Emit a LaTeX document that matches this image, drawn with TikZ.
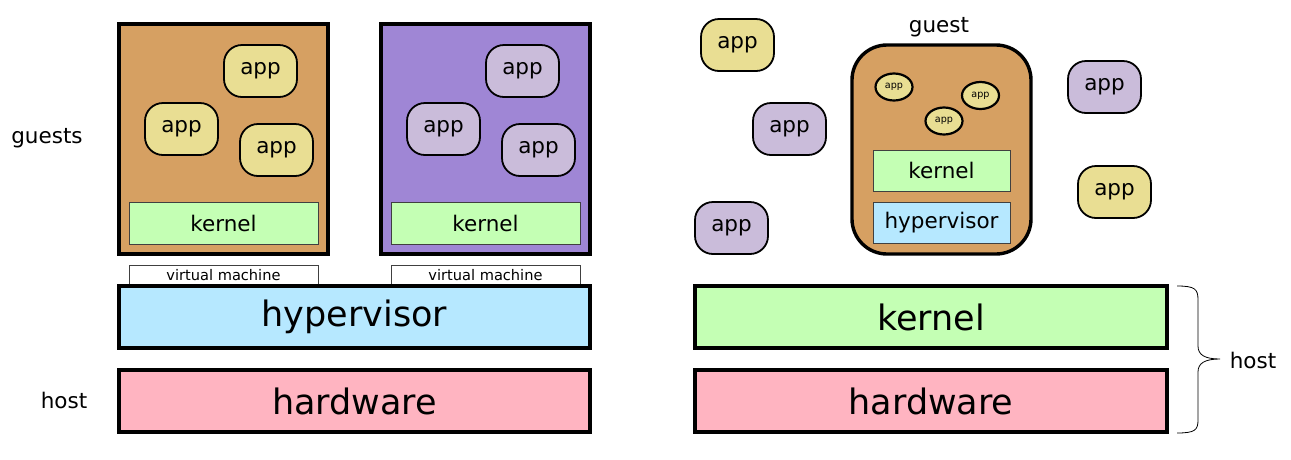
\documentclass[tikz,border=0pt]{standalone}
\usepackage{fontspec}
\setmainfont{DejaVu Sans}
\usetikzlibrary{shapes.geometric}
\definecolor{guesttan}{RGB}{214,160,98}
\definecolor{guestpurple}{RGB}{159,134,213}
\definecolor{appyellow}{RGB}{233,222,147}
\definecolor{applilac}{RGB}{202,188,218}
\definecolor{kernelgreen}{RGB}{196,255,180}
\definecolor{hyperblue}{RGB}{182,232,255}
\definecolor{hwpink}{RGB}{255,180,193}

\begin{document}
\begin{tikzpicture}[x=1pt, y=-1pt,
    every node/.style={inner sep=0pt, font=\fontsize{21.5}{24}\selectfont},
    layer/.style={draw, line width=3.4pt, minimum width=471pt, minimum height=62pt, font=\fontsize{35}{40}\selectfont},
    vmbox/.style={draw, line width=3.4pt, minimum width=209pt, minimum height=230pt},
    app/.style={draw, line width=1.8pt, rounded corners=18pt, minimum width=73pt, minimum height=52pt},
    tinyapp/.style={draw, ellipse, line width=2.2pt, fill=appyellow, minimum width=37pt, minimum height=27pt, font=\fontsize{9.6}{11}\selectfont},
    inbox/.style={draw=black!75, line width=0.8pt, minimum width=189pt, minimum height=42pt},
    vmlabel/.style={draw=black!75, line width=0.8pt, fill=white, minimum width=189pt, minimum height=21pt, font=\fontsize{14.6}{16}\selectfont}]
        \useasboundingbox (0,0) rectangle (1291,459);

        % Left: hypervisor with two virtual machines
        \node[vmbox, fill=guesttan] (vmA) at (223.5,139) {};
        \node[vmbox, fill=guestpurple] (vmB) at (485.5,139) {};
        \node[app, fill=appyellow] (appA1) at (260.5,71) {app};
        \node[app, fill=appyellow] (appA2) at (181.5,129) {app};
        \node[app, fill=appyellow] (appA3) at (276.5,150) {app};
        \node[app, fill=applilac] (appB1) at (522.5,71) {app};
        \node[app, fill=applilac] (appB2) at (443.5,129) {app};
        \node[app, fill=applilac] (appB3) at (538.5,150) {app};
        \node[inbox, fill=kernelgreen] (kernA) at (223.5,223) {kernel};
        \node[inbox, fill=kernelgreen] (kernB) at (485.5,223) {kernel};
        \node[vmlabel] (vmlabA) at (223.5,275.5) {virtual machine};
        \node[vmlabel] (vmlabB) at (485.5,275.5) {virtual machine};
        \node[layer, fill=hyperblue] (hyp) at (354.5,317) {hypervisor};
        \node[layer, fill=hwpink] (hwL) at (354.5,401) {hardware};
        \node (guests) at (47,138) {guests};
        \node (hostL) at (64,400) {host};

        % Right: guest running as a process beside apps
        \node[app, fill=appyellow] (appR1) at (737.5,45) {app};
        \node[app, fill=applilac] (appR2) at (789.5,129) {app};
        \node[app, fill=applilac] (appR3) at (731.5,228) {app};
        \node[app, fill=applilac] (appR4) at (1104.5,87) {app};
        \node[app, fill=appyellow] (appR5) at (1114.5,192) {app};
        \node[draw, line width=3.4pt, rounded corners=35pt, fill=guesttan, minimum width=179pt, minimum height=209pt] (guestbox) at (941.5,149.5) {};
        \node (guestlab) at (939,27) {guest};
        \node[tinyapp] (tapp1) at (894,87) {app};
        \node[tinyapp] (tapp2) at (980.5,95.5) {app};
        \node[tinyapp] (tapp3) at (944,121) {app};
        \node[inbox, fill=kernelgreen, minimum width=137pt, minimum height=41pt] (kernG) at (941.5,170.5) {kernel};
        \node[inbox, fill=hyperblue, minimum width=137pt, minimum height=41pt] (hypG) at (941.5,222.5) {hypervisor};
        \node[layer, fill=kernelgreen, minimum width=472pt] (kernR) at (931,317) {kernel};
        \node[layer, fill=hwpink, minimum width=472pt] (hwR) at (931,401) {hardware};

        % brace
        \draw[line width=0.8pt] (1177,286) .. controls (1195,286) and (1198,289) .. (1198,300) -- (1198,346)
            .. controls (1198,355) and (1205,359) .. (1220,359)
            .. controls (1205,359) and (1198,363) .. (1198,372) -- (1198,420)
            .. controls (1198,430) and (1195,433) .. (1177,433);
        \node (hostR) at (1253,360) {host};
      \end{tikzpicture}
\end{document}
